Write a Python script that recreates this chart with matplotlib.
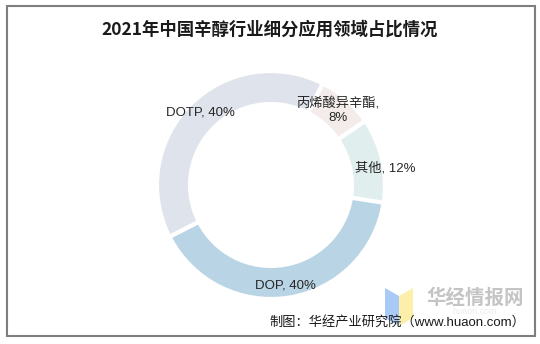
import matplotlib.pyplot as plt
from matplotlib.patches import Rectangle, Polygon

plt.rcParams['font.family'] = ['Liberation Sans', 'Noto Sans CJK SC', 'DejaVu Sans']

# data, clockwise starting near the top
labels = ['丙烯酸异辛酯', '其他', 'DOP', 'DOTP']
shares = [8, 12, 40, 40]
colors = ['#f3ecea', '#e1eeee', '#b9d4e4', '#dfe3ec']
label_pos = [(338, 110), (385, 168), (285, 285), (200, 113)]
label_text = ['丙烯酸异辛酯,\n8%', '其他, 12%', 'DOP, 40%', 'DOTP, 40%']

W, H = 540, 344
fig = plt.figure(figsize=(W / 100, H / 100), dpi=100)

# pie axes: center (271,185), radius ~114 px
cx, cy, r = 271, 185, 114
ax = fig.add_axes([(cx - r) / W, 1 - (cy + r) / H, 2 * r / W, 2 * r / H])
ax.pie(shares, colors=colors, startangle=63, counterclock=False,
       radius=1.0, wedgeprops=dict(width=0.29, edgecolor='white', linewidth=3))
ax.set_xlim(-1, 1)
ax.set_ylim(-1, 1)
ax.set_aspect('auto')
ax.axis('off')

for (x, y), t in zip(label_pos, label_text):
    fig.text(x / W, 1 - y / H, t, ha='center', va='center', fontsize=9.5,
             color='#262626', linespacing=1.3)

# title
fig.text(270 / W, 1 - 30 / H, '2021年中国辛醇行业细分应用领域占比情况',
         ha='center', va='center', fontsize=12.5, fontweight='bold',
         color='#1a1a1a', family=['Noto Sans CJK SC'])

# watermark logo
fig.patches.append(Polygon([(385 / W, 1 - 288 / H), (399 / W, 1 - 296 / H),
                            (399 / W, 1 - 326 / H), (385 / W, 1 - 318 / H)],
                           closed=True, transform=fig.transFigure,
                           facecolor='#a9c9f7', edgecolor='none'))
fig.patches.append(Polygon([(399 / W, 1 - 296 / H), (413 / W, 1 - 288 / H),
                            (413 / W, 1 - 318 / H), (399 / W, 1 - 326 / H)],
                           closed=True, transform=fig.transFigure,
                           facecolor='#fcefa9', edgecolor='none'))
fig.text(475 / W, 1 - 298 / H, '华经情报网', ha='center', va='center',
         fontsize=14, fontweight='bold', color='#c4c4c4',
         family=['Noto Sans CJK SC'])
fig.text(475 / W, 1 - 311 / H, 'huaon.com', ha='center', va='center',
         fontsize=6.5, color='#ececec')

# source
fig.text(525 / W, 1 - 322 / H, '制图：华经产业研究院（www.huaon.com）',
         ha='right', va='center', fontsize=9.5, color='#1a1a1a')

# border
fig.patches.append(Rectangle((7 / W, 1 - 336 / H), 528 / W, 330 / H,
                             transform=fig.transFigure, fill=False,
                             edgecolor='#7f7f7f', linewidth=1.5))

fig.savefig('out.png', dpi=100)
